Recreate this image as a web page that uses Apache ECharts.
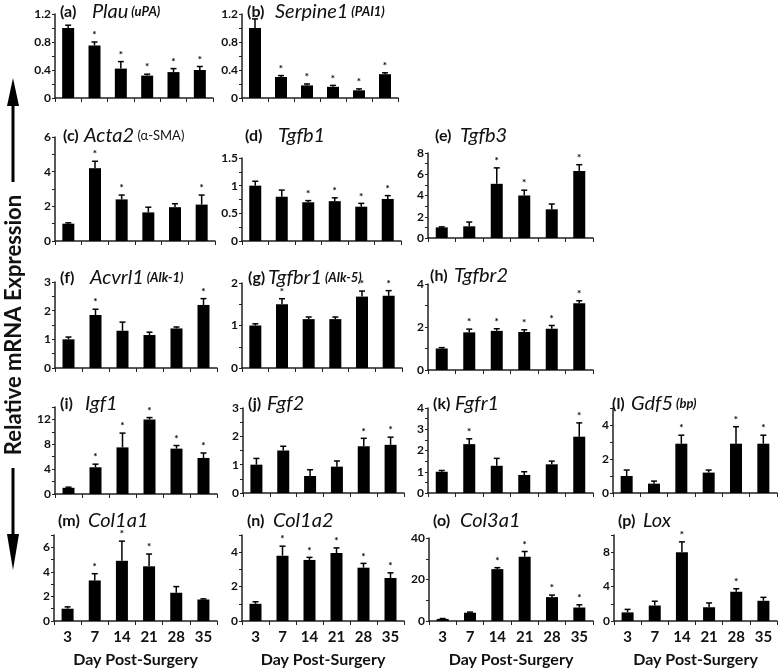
<!DOCTYPE html>
<html><head><meta charset="utf-8">
<script src="https://cdn.jsdelivr.net/npm/echarts@6/dist/echarts.min.js"></script>
<style>html,body{margin:0;padding:0;background:#fff}#c{width:778px;height:669px}</style>
</head><body><div id="c"></div>
<script>
// ---- data ----
const days = ['3','7','14','21','28','35'];
const yTitle = 'Relative mRNA Expression';
const xTitle = 'Day Post-Surgery';

const plau      = [1.00,0.75,0.42,0.32,0.37,0.40];
const plauErr   = [0.04,0.05,0.10,0.02,0.05,0.05];
const plauSig   = [0,1,1,1,1,1];

const serpine1    = [1.00,0.30,0.18,0.16,0.11,0.34];
const serpine1Err = [0.13,0.02,0.02,0.02,0.02,0.02];
const serpine1Sig = [0,1,1,1,1,1];

const acta2    = [1.0,4.2,2.4,1.65,1.95,2.1];
const acta2Err = [0.05,0.4,0.25,0.3,0.2,0.55];
const acta2Sig = [0,1,1,0,0,1];

const tgfb1    = [1.0,0.80,0.70,0.72,0.62,0.76];
const tgfb1Err = [0.08,0.12,0.03,0.06,0.06,0.06];
const tgfb1Sig = [0,0,1,1,1,1];

const tgfb3    = [1.0,1.1,5.1,4.0,2.7,6.3];
const tgfb3Err = [0.05,0.4,1.5,0.5,0.5,0.6];
const tgfb3Sig = [0,0,1,1,0,1];

const acvrl1    = [1.0,1.85,1.3,1.15,1.38,2.2];
const acvrl1Err = [0.08,0.2,0.3,0.1,0.05,0.22];
const acvrl1Sig = [0,1,0,0,0,1];

const tgfbr1    = [1.0,1.5,1.15,1.15,1.68,1.7];
const tgfbr1Err = [0.04,0.13,0.05,0.05,0.13,0.12];
const tgfbr1Sig = [0,1,0,0,1,1];

const tgfbr2    = [1.0,1.75,1.82,1.77,1.92,3.1];
const tgfbr2Err = [0.04,0.15,0.1,0.1,0.15,0.12];
const tgfbr2Sig = [0,1,1,1,1,1];

const igf1    = [1.0,4.3,7.5,12.0,7.3,5.8];
const igf1Err = [0.1,0.5,2.3,0.3,0.5,0.8];
const igf1Sig = [0,1,1,1,1,1];

const fgf2    = [1.0,1.5,0.6,0.93,1.65,1.7];
const fgf2Err = [0.22,0.15,0.22,0.2,0.28,0.27];
const fgf2Sig = [0,0,0,0,1,1];

const fgfr1    = [1.0,2.3,1.28,0.85,1.35,2.65];
const fgfr1Err = [0.06,0.25,0.35,0.15,0.15,0.65];
const fgfr1Sig = [0,1,0,0,0,1];

const gdf5    = [1.0,0.55,2.9,1.2,2.9,2.9];
const gdf5Err = [0.35,0.15,0.5,0.15,1.0,0.5];
const gdf5Sig = [0,0,1,0,1,1];

const col1a1    = [1.0,3.3,4.9,4.45,2.3,1.75];
const col1a1Err = [0.15,0.55,1.6,1.0,0.5,0.05];
const col1a1Sig = [0,1,1,1,0,0];

const col1a2    = [1.0,3.8,3.55,3.95,3.1,2.5];
const col1a2Err = [0.12,0.55,0.15,0.3,0.25,0.3];
const col1a2Sig = [0,1,1,1,1,1];

const col3a1    = [1.0,4.0,25,31,11.5,6.5];
const col3a1Err = [0.2,0.3,0.7,2.5,1.0,1.3];
const col3a1Sig = [0,0,1,1,1,1];

const lox    = [1.0,1.8,8.0,1.6,3.4,2.35];
const loxErr = [0.35,0.5,1.2,0.5,0.35,0.4];
const loxSig = [0,0,1,0,1,0];

// ---- panel layout ----
const panels = [
 {lab:'(a)',gene:'Plau',extra:'(uPA)',ex:'s',v:plau,e:plauErr,s:plauSig,max:1.2,step:0.2,ls:0.4,box:[55,14,158,84],tx:60,ty:12,gx:92},
 {lab:'(b)',gene:'Serpine1',extra:'(PAI1)',ex:'s',v:serpine1,e:serpine1Err,s:serpine1Sig,max:1.2,step:0.2,ls:0.4,box:[242,14,156,84],tx:247,ty:12,gx:275},
 {lab:'(c)',gene:'Acta2',extra:'(α-SMA)',ex:'n',v:acta2,e:acta2Err,s:acta2Sig,max:6,step:1,ls:2,box:[55,137,160,104],tx:63,ty:136,gx:84},
 {lab:'(d)',gene:'Tgfb1',extra:'',ex:'s',v:tgfb1,e:tgfb1Err,s:tgfb1Sig,max:1.5,step:0.25,ls:0.5,box:[242,158,159,83],tx:245,ty:136,gx:278},
 {lab:'(e)',gene:'Tgfb3',extra:'',ex:'s',v:tgfb3,e:tgfb3Err,s:tgfb3Sig,max:8,step:1,ls:2,box:[428,153,165,85],tx:435,ty:136,gx:460},
 {lab:'(f)',gene:'Acvrl1',extra:'(Alk-1)',ex:'s',v:acvrl1,e:acvrl1Err,s:acvrl1Sig,max:3,step:0.5,ls:1,box:[55,282,162,86],tx:60,ty:278,gx:90},
 {lab:'(g)',gene:'Tgfbr1',extra:'(Alk-5)',ex:'s',v:tgfbr1,e:tgfbr1Err,s:tgfbr1Sig,max:2,step:0.5,ls:1,box:[242,283,160,85],tx:248,ty:278,gx:268},
 {lab:'(h)',gene:'Tgfbr2',extra:'',ex:'s',v:tgfbr2,e:tgfbr2Err,s:tgfbr2Sig,max:4,step:1,ls:2,box:[428,284,165,86],tx:430,ty:276,gx:454},
 {lab:'(i)',gene:'Igf1',extra:'',ex:'s',v:igf1,e:igf1Err,s:igf1Sig,max:14,step:2,ls:4,box:[55,407,162,87],tx:60,ty:404,gx:85},
 {lab:'(j)',gene:'Fgf2',extra:'',ex:'s',v:fgf2,e:fgf2Err,s:fgf2Sig,max:3,step:0.5,ls:1,box:[243,408,161,85],tx:248,ty:404,gx:267},
 {lab:'(k)',gene:'Fgfr1',extra:'',ex:'s',v:fgfr1,e:fgfr1Err,s:fgfr1Sig,max:4,step:0.5,ls:1,box:[428,408,165,85],tx:433,ty:404,gx:455},
 {lab:'(l)',gene:'Gdf5',extra:'(bp)',ex:'s',v:gdf5,e:gdf5Err,s:gdf5Sig,max:5,step:1,ls:2,box:[613,408,164,85],tx:612,ty:404,gx:631},
 {lab:'(m)',gene:'Col1a1',extra:'',ex:'s',v:col1a1,e:col1a1Err,s:col1a1Sig,max:7,step:1,ls:2,box:[54,535,163,87],tx:58,ty:521,gx:88,xl:true},
 {lab:'(n)',gene:'Col1a2',extra:'',ex:'s',v:col1a2,e:col1a2Err,s:col1a2Sig,max:5,step:1,ls:2,box:[242,535,162,87],tx:247,ty:521,gx:273,xl:true},
 {lab:'(o)',gene:'Col3a1',extra:'',ex:'s',v:col3a1,e:col3a1Err,s:col3a1Sig,max:40,step:10,ls:20,box:[429,538,164,84],tx:433,ty:521,gx:460,xl:true},
 {lab:'(p)',gene:'Lox',extra:'',ex:'s',v:lox,e:loxErr,s:loxSig,max:10,step:2,ls:4,box:[614,535,163,87],tx:618,ty:521,gx:643,xl:true}
];

const FONT = 'Lato';
const chart = echarts.init(document.getElementById('c'), null, {renderer:'canvas'});

const grid=[], xAxis=[], yAxis=[], series=[], title=[];
panels.forEach((p,i)=>{
  grid.push({left:p.box[0], top:p.box[1], width:p.box[2], height:p.box[3], containLabel:false});
  xAxis.push({
    type:'category', gridIndex:i, data:days, boundaryGap:true,
    axisLine:{show:true, lineStyle:{color:'#222', width:1.5}},
    axisTick:{show:true, length:4, lineStyle:{color:'#222', width:1}},
    axisLabel:{show:!!p.xl, color:'#111', fontFamily:FONT, fontWeight:'bold', fontSize:15, margin:9},
    name: p.xl ? xTitle : '', nameLocation:'middle', nameGap:31,
    nameTextStyle:{color:'#111', fontFamily:FONT, fontWeight:'bold', fontSize:16}
  });
  const ls = p.ls;
  yAxis.push({
    type:'value', gridIndex:i, min:0, max:p.max, interval:p.step,
    axisLine:{show:true, lineStyle:{color:'#222', width:1.5}},
    axisTick:{show:true, length:3, lineStyle:{color:'#222', width:1}},
    splitLine:{show:false},
    axisLabel:{color:'#111', fontFamily:FONT, fontWeight:'bold', fontSize:12, margin:4,
      formatter:(v)=>{const r=v/ls; return Math.abs(r-Math.round(r))<1e-6 ? String(+v.toFixed(2)) : '';}}
  });
  series.push({type:'bar', xAxisIndex:i, yAxisIndex:i, data:p.v, barWidth:12,
    itemStyle:{color:'#000'}, silent:true, animation:false});
  series.push({type:'custom', xAxisIndex:i, yAxisIndex:i, silent:true, animation:false,
    data:p.v.map((v,k)=>[k, v, p.e[k], p.s[k]]),
    renderItem:(params, api)=>{
      const k=api.value(0), v=api.value(1), e=api.value(2), s=api.value(3);
      const b=api.coord([k,v]), t=api.coord([k,v+e]);
      const ch=[
        {type:'line', shape:{x1:b[0],y1:b[1],x2:t[0],y2:t[1]}, style:{stroke:'#000', lineWidth:1.5}},
        {type:'line', shape:{x1:t[0]-3,y1:t[1],x2:t[0]+3,y2:t[1]}, style:{stroke:'#000', lineWidth:1.5}}
      ];
      if(s){ ch.push({type:'text', x:t[0], y:t[1]-2, style:{text:'*', fill:'#000', font:'bold 10px '+FONT, align:'center', verticalAlign:'bottom'}}); }
      return {type:'group', children:ch};
    }
  });
  const exStyle = p.ex==='n' ? {fontStyle:'normal', fontWeight:'normal', fontSize:13} : {fontStyle:'italic', fontWeight:'bold', fontSize:13};
  title.push({
    left:p.tx, top:p.ty-11, padding:0,
    text:'{l|'+p.lab+'}{g|'+p.gene+'}'+(p.extra?'{x| '+p.extra+'}':''),
    textStyle:{rich:{
      l:{fontFamily:FONT, fontWeight:'bold', fontSize:16, color:'#111', width:p.gx-p.tx, lineHeight:22},
      g:{fontFamily:FONT, fontStyle:'italic', fontWeight:'normal', fontSize:20, color:'#111', lineHeight:22},
      x:Object.assign({fontFamily:FONT, color:'#111', lineHeight:22}, exStyle)
    }}
  });
});

const graphic = [
  {type:'text', x:14, y:325, rotation:Math.PI/2, style:{text:yTitle, fill:'#111', font:'bold 22px '+FONT, align:'center', verticalAlign:'middle'}},
  {type:'line', shape:{x1:13,y1:182,x2:13,y2:100}, style:{stroke:'#000', lineWidth:3}},
  {type:'polygon', shape:{points:[[13,78],[7,106],[19,106]]}, style:{fill:'#000'}},
  {type:'line', shape:{x1:13,y1:468,x2:13,y2:540}, style:{stroke:'#000', lineWidth:3}},
  {type:'polygon', shape:{points:[[13,570],[7,534],[19,534]]}, style:{fill:'#000'}}
];

chart.setOption({animation:false, backgroundColor:'#fff', title, grid, xAxis, yAxis, series, graphic});
</script></body></html>
